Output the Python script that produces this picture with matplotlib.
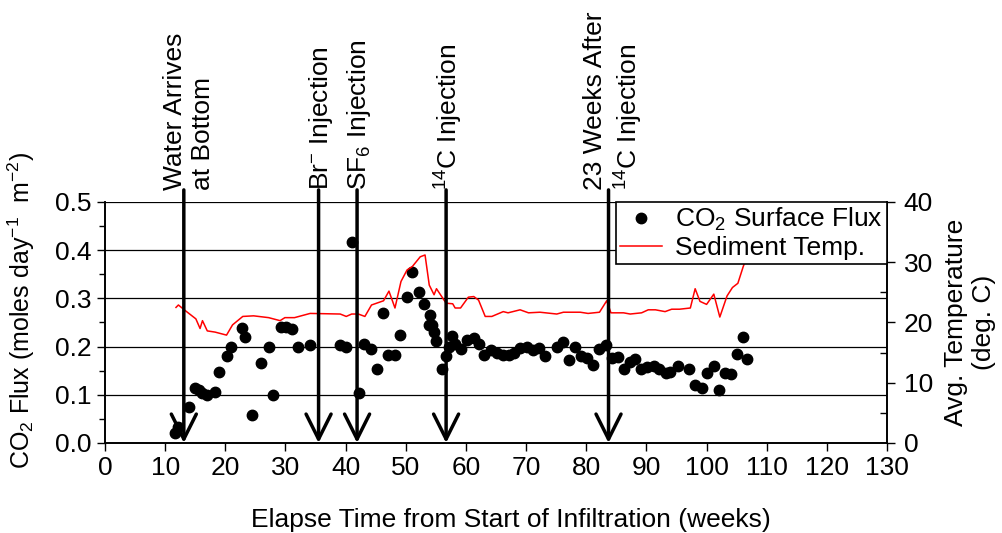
import numpy as np
import matplotlib.pyplot as plt
from matplotlib.ticker import MultipleLocator

plt.rcParams['font.family'] = ['Liberation Sans', 'DejaVu Sans']
plt.rcParams['mathtext.default'] = 'regular'

# CO2 surface flux (weeks, moles day-1 m-2)
flux_weeks = [11.6, 12.1, 14.0, 15.0, 15.6, 16.1, 17.0, 18.3, 18.9, 20.3,
              20.9, 22.7, 23.2, 24.5, 26.0, 27.2, 28.0, 29.2, 30.1, 31.1,
              32.1, 34.0, 39.1, 40.0, 41.1, 42.2, 43.1, 44.2, 45.2, 46.2,
              47.1, 48.2, 49.0, 50.2, 51.0, 52.2, 53.1, 54.1, 53.8, 54.3,
              54.7, 55.1, 56.1, 56.6, 57.2, 57.7, 58.2, 59.1, 60.1, 61.3,
              62.2, 63.0, 64.1, 65.1, 66.1, 67.1, 68.0, 69.0, 70.1, 71.1,
              72.2, 73.1, 75.1, 76.1, 77.1, 78.1, 79.2, 80.2, 81.2, 82.1,
              83.2, 84.2, 85.2, 86.2, 87.2, 88.1, 89.1, 90.1, 91.2, 92.1,
              93.2, 94.0, 95.2, 97.1, 98.1, 99.2, 100.0, 101.2, 102.1, 103.1,
              104.1, 105.0, 106.0, 106.7]
flux_vals = [0.021, 0.034, 0.075, 0.115, 0.109, 0.103, 0.100, 0.106, 0.147, 0.180,
             0.200, 0.239, 0.219, 0.059, 0.165, 0.200, 0.100, 0.241, 0.241, 0.236,
             0.200, 0.203, 0.203, 0.200, 0.416, 0.104, 0.206, 0.194, 0.153, 0.269,
             0.183, 0.183, 0.225, 0.303, 0.355, 0.314, 0.288, 0.266, 0.245, 0.245,
             0.231, 0.212, 0.153, 0.181, 0.200, 0.222, 0.206, 0.194, 0.214, 0.217,
             0.206, 0.183, 0.192, 0.187, 0.183, 0.183, 0.187, 0.197, 0.200, 0.193,
             0.197, 0.181, 0.199, 0.209, 0.172, 0.200, 0.181, 0.176, 0.162, 0.194,
             0.203, 0.176, 0.179, 0.153, 0.168, 0.174, 0.153, 0.158, 0.160, 0.153,
             0.145, 0.148, 0.160, 0.153, 0.120, 0.114, 0.145, 0.160, 0.109, 0.146,
             0.143, 0.184, 0.220, 0.175]

# Sediment temperature (weeks, deg C)
temp_weeks = [11.8, 12.2, 13.3, 15.1, 15.8, 16.2, 17.0, 18.3, 20.2, 21.2,
              22.9, 24.7, 27.2, 29.1, 29.9, 31.5, 34.1, 39.1, 40.1, 41.0,
              42.1, 43.2, 44.3, 46.3, 47.2, 48.2, 49.2, 50.2, 51.1, 52.4,
              53.2, 53.9, 54.7, 55.1, 56.7, 57.8, 58.2, 59.1, 60.4, 61.3,
              62.1, 63.2, 64.3, 66.2, 67.0, 69.0, 70.4, 72.3, 75.1, 76.2,
              79.0, 80.3, 82.2, 83.4, 84.1, 86.2, 87.3, 89.2, 90.3, 91.5,
              93.1, 94.2, 95.5, 97.3, 98.1, 98.9, 100.0, 101.2, 102.2, 103.4,
              104.3, 105.2, 106.1, 106.4, 107.0]
temp_vals = [22.5, 22.9, 22.0, 20.6, 19.0, 20.3, 18.6, 18.4, 17.9, 19.6,
             21.0, 21.1, 20.8, 20.3, 20.8, 20.8, 21.5, 21.4, 21.0, 21.4,
             21.4, 21.0, 22.9, 23.6, 25.2, 22.4, 26.8, 28.7, 29.3, 30.9,
             31.2, 26.2, 24.6, 25.6, 23.2, 23.1, 22.4, 22.4, 24.2, 24.3,
             23.7, 21.0, 21.0, 21.8, 21.6, 22.1, 21.6, 21.7, 21.4, 21.7,
             21.7, 21.5, 21.7, 23.6, 21.6, 21.6, 21.4, 21.6, 22.1, 22.1,
             21.8, 22.2, 22.2, 22.4, 25.6, 23.5, 23.0, 24.7, 20.9, 24.4,
             25.8, 26.5, 29.3, 30.1, 33.0]

event_weeks = [13.1, 35.5, 41.9, 56.7, 83.7]
event_labels = ['Water Arrives\nat Bottom', 'Br$^{-}$ Injection',
                'SF$_6$ Injection', '$^{14}$C Injection',
                '23 Weeks After\n$^{14}$C Injection']

fs = 19

fig = plt.figure(figsize=(10.03, 5.33), dpi=100)
ax = fig.add_axes([0.1047, 0.1689, 0.7797, 0.4522])
ax2 = ax.twinx()

for g in [0.1, 0.2, 0.3, 0.4, 0.5]:
    ax.axhline(g, color='black', lw=0.9, zorder=1)

pts, = ax.plot(flux_weeks, flux_vals, 'o', color='black', ms=7.5, zorder=3,
               label='CO$_2$ Surface Flux')
ln, = ax2.plot(temp_weeks, temp_vals, color='red', lw=1.1,
               label='Sediment Temp.')

ax.set_xlim(0, 130)
ax.set_ylim(0, 0.5)
ax2.set_ylim(0, 40)
ax.xaxis.set_major_locator(MultipleLocator(10))
ax.yaxis.set_major_locator(MultipleLocator(0.1))
ax.yaxis.set_minor_locator(MultipleLocator(0.05))
ax.yaxis.set_major_formatter(plt.FormatStrFormatter('%.1f'))
ax2.yaxis.set_major_locator(MultipleLocator(10))
ax2.yaxis.set_minor_locator(MultipleLocator(5))

ax.tick_params(axis='both', labelsize=fs, width=1, length=6, direction='out')
ax.tick_params(axis='y', which='minor', length=4, width=1, direction='out')
ax2.tick_params(axis='y', labelsize=fs, width=1, length=6, direction='out', pad=6)
ax2.tick_params(axis='y', which='minor', length=5, width=1, direction='in')

for a in (ax, ax2):
    a.spines['top'].set_visible(False)
    for s in a.spines.values():
        s.set_linewidth(1.2)

ax.set_xlabel('Elapse Time from Start of Infiltration (weeks)', fontsize=fs)
ax.xaxis.set_label_coords(0.519, -0.27)
ax.set_ylabel('CO$_2$ Flux (moles day$^{-1}$  m$^{-2}$)', fontsize=18)
ax.yaxis.set_label_coords(-0.087, 0.55)
ax2.set_ylabel('Avg. Temperature\n(deg. C)', fontsize=fs, labelpad=8)

for w, lab in zip(event_weeks, event_labels):
    ax2.annotate('', xy=(w, 0), xytext=(w, 42.0),
                 arrowprops=dict(arrowstyle='->,head_length=0.9,head_width=0.45',
                                 lw=2.5, color='black', shrinkA=0, shrinkB=0,
                                 mutation_scale=20),
                 annotation_clip=False, zorder=5)
    dx = 0.9 if '\n' in lab else 0.4
    ax2.text(w + dx, 42.0, lab, rotation=90, ha='center', va='bottom',
             fontsize=fs, multialignment='left', linespacing=1.2)

leg = ax2.legend([pts, ln], ['CO$_2$ Surface Flux', 'Sediment Temp.'],
                 loc='upper right', bbox_to_anchor=(1.0, 1.0), fontsize=fs,
                 frameon=True, fancybox=False, edgecolor='black',
                 framealpha=1, borderpad=0.15, labelspacing=0.1,
                 handlelength=1.6, handletextpad=0.5, borderaxespad=0,
                 numpoints=1)
leg.get_frame().set_linewidth(1.2)
leg.set_zorder(10)

fig.savefig('out.png', dpi=100)
